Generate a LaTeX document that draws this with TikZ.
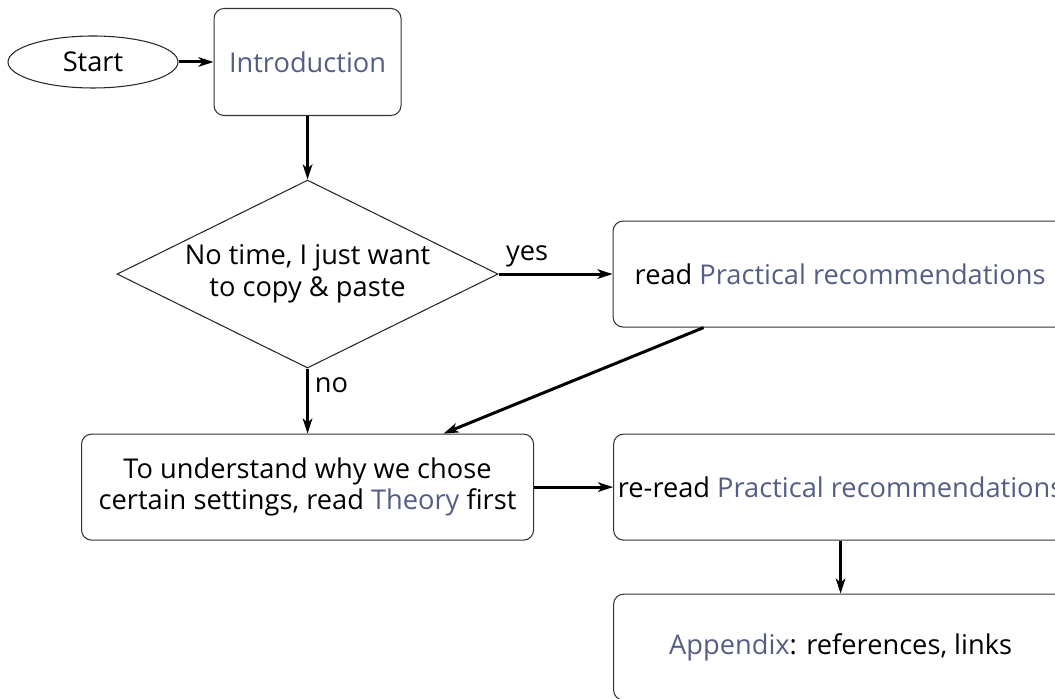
\documentclass[tikz,border=0pt]{standalone}
\usepackage{fontspec}
\setmainfont{Open Sans}
\usepackage{tikz}
\usetikzlibrary{arrows.meta,shapes.geometric,positioning,calc}

\definecolor{LinkGray}{RGB}{84,94,132}
\newcommand{\lk}[1]{\textcolor{LinkGray}{#1}}

\begin{document}
\begin{tikzpicture}[-,>={Stealth[length=8.5pt,width=5.4pt,inset=2.2pt]},shorten >=0pt,auto,node distance=1.3cm,line width=1.7pt,
                    font=\fontsize{15.5}{18}\selectfont,
                    term/.style={ellipse,draw=black!85,line width=0.6pt,minimum width=3.4cm,minimum height=1.04cm,inner sep=0pt},
                    box/.style={rectangle,draw=black!80,line width=0.6pt,rounded corners=0.2cm,align=center,minimum height=2.12cm,inner sep=2pt},
                    decision/.style={diamond,draw=black!85,line width=0.6pt,align=center,shape aspect=2.03,minimum width=7.62cm,minimum height=3.76cm,inner sep=0pt}]

\useasboundingbox (-1.86,1.24) rectangle (19.24,-12.74);

\node[term] (ST)                       {Start};
\node[box, minimum width=3.74cm, minimum height=2.14cm] (IN) [right=0.7cm of ST] {\lk{Introduction}};
\node[decision] (DC) [below=1.27cm of IN] {No time, I just want\\to copy \& paste};
\node[box, minimum width=9.08cm] (RP) [right=2.28cm of DC] {read \lk{Practical recommendations}};
\node[box, minimum width=9.04cm] (TH) [below=1.3cm of DC] {To understand why we chose\\certain settings, read \lk{Theory} first};
\node[box, minimum width=9.08cm] (RR) [right=1.58cm of TH] {re-read \lk{Practical recommendations}};
\node[box, minimum width=9.08cm] (AP) [below=1.06cm of RR] {\lk{Appendix}: references, links};

\coordinate (RPo) at ($(RP.south west)!0.2!(RP.south east)$);
\coordinate (THi) at ($(TH.north west)!0.8!(TH.north east)$);

\path (ST) edge[->] (IN)
      (IN) edge[->] (DC)
      (DC) edge[->] node[pos=0.25] {yes} (RP)
      (DC) edge[->] node[pos=0.26] {no} (TH)
      (RPo) edge[->] (THi)
      (TH) edge[->] (RR)
      (RR) edge[->] (AP);

\end{tikzpicture}
\end{document}
